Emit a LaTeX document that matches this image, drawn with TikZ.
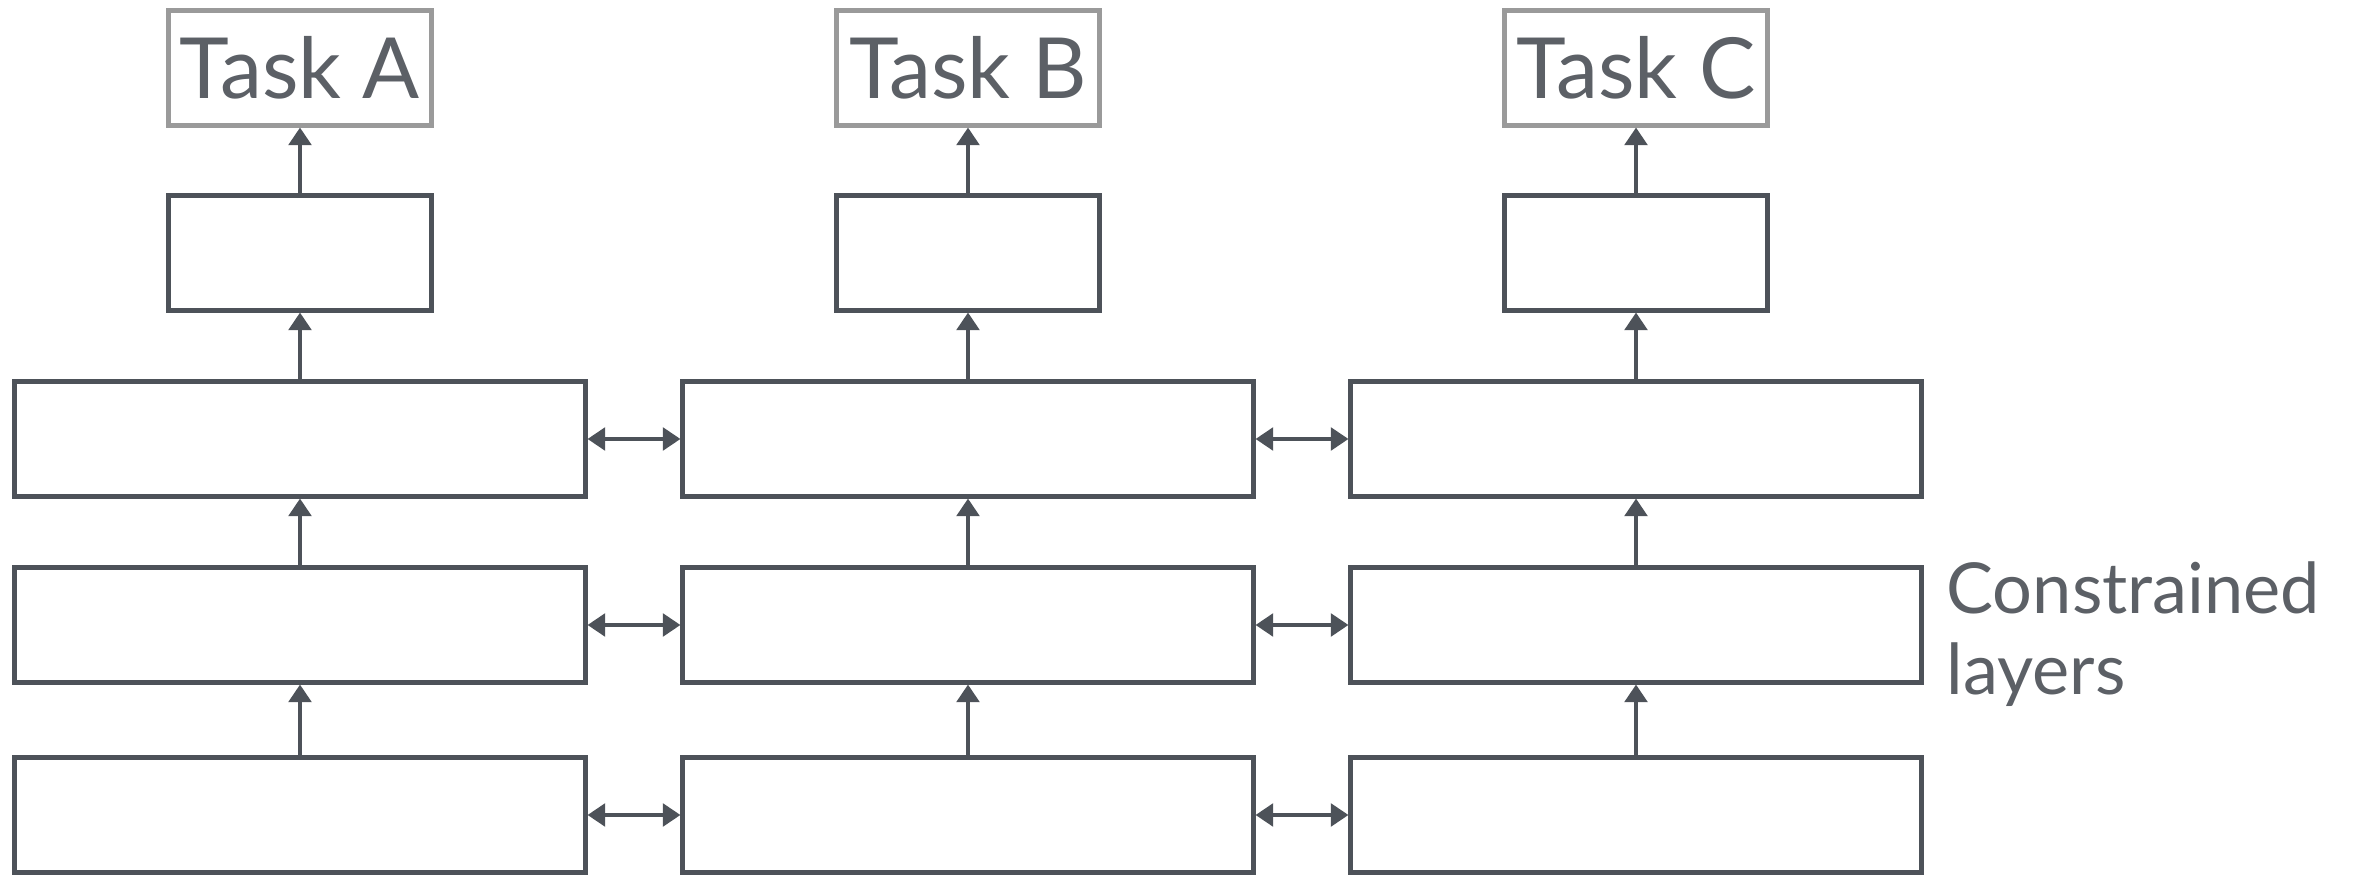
\documentclass[tikz,border=0pt]{standalone}
\usepackage{fontspec}
\setmainfont{Lato}
\usepackage{tikz}
\usetikzlibrary{positioning, arrows.meta}

\definecolor{boxgray}{HTML}{4D5259}
\definecolor{taskgray}{HTML}{9A9A9A}
\definecolor{txtgray}{HTML}{5C6066}

\begin{document}
\begin{tikzpicture}
            [layer/.style={rectangle, draw=boxgray, line width=1.2pt, inner sep=0pt,
                           minimum width=5.71cm, minimum height=1.15cm},
             head/.style={layer, minimum width=2.63cm},
             task/.style={head, draw=taskgray, text=txtgray, font=\fontsize{24}{28}\selectfont},
             line width=0.9pt, draw=boxgray, >={Triangle[length=5pt, width=6.5pt]}]
            \useasboundingbox (0,0) rectangle (23.59,8.78);

            % column A
            \node[task]  (taskA) at (3.00,8.10) {Task A};
            \node[head]  (headA) at (3.00,6.25) {};
            \node[layer] (l3A)   at (3.00,4.39) {};
            \node[layer] (l2A)   at (3.00,2.53) {};
            \node[layer] (l1A)   at (3.00,0.63) {};

            % column B
            \node[task]  (taskB) at (9.68,8.10) {Task B};
            \node[head]  (headB) at (9.68,6.25) {};
            \node[layer] (l3B)   at (9.68,4.39) {};
            \node[layer] (l2B)   at (9.68,2.53) {};
            \node[layer] (l1B)   at (9.68,0.63) {};

            % column C
            \node[task]  (taskC) at (16.36,8.10) {Task C};
            \node[head]  (headC) at (16.36,6.25) {};
            \node[layer] (l3C)   at (16.36,4.39) {};
            \node[layer] (l2C)   at (16.36,2.53) {};
            \node[layer] (l1C)   at (16.36,0.63) {};

            \node[anchor=west, inner sep=0pt, align=left, text=txtgray,
                  font=\fontsize{20}{23}\selectfont] (note) at (19.45,2.44) {Constrained\\layers};

            \path [->] (l1A) edge (l2A) (l2A) edge (l3A) (l3A) edge (headA) (headA) edge (taskA);
            \path [->] (l1B) edge (l2B) (l2B) edge (l3B) (l3B) edge (headB) (headB) edge (taskB);
            \path [->] (l1C) edge (l2C) (l2C) edge (l3C) (l3C) edge (headC) (headC) edge (taskC);

            \path [<->] (l3A) edge (l3B) (l3B) edge (l3C);
            \path [<->] (l2A) edge (l2B) (l2B) edge (l2C);
            \path [<->] (l1A) edge (l1B) (l1B) edge (l1C);
        \end{tikzpicture}
\end{document}
